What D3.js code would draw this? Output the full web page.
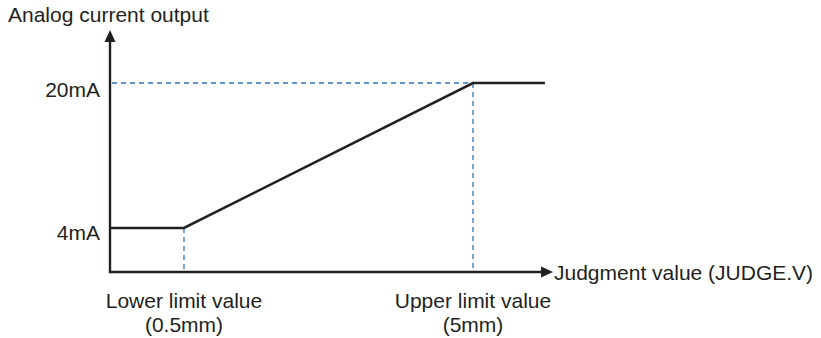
<!DOCTYPE html>
<html><head><meta charset="utf-8">
<script src="https://cdn.jsdelivr.net/npm/d3@7"></script>
<style>html,body{margin:0;padding:0;background:#fff;}svg{display:block;}</style>
</head><body>
<svg id="chart" width="821" height="338"></svg>
<script>
// Data
const limitValues = [0.5, 5];                 // judgment value (mm): lower, upper limit
const limitLabels = ["Lower limit value", "Upper limit value"];
const limitUnits = ["(0.5mm)", "(5mm)"];
const currentTicks = [4, 20];                 // mA
const currentLabels = ["4mA", "20mA"];
const outputX = [-0.652, 0.5, 5, 6.12];       // judgment value
const outputY = [4, 4, 20, 20];               // analog current (mA)
const xDomain = [-0.652, 6.246];
const yDomain = [-0.855, 25.85];

const svg = d3.select("#chart");
const x = d3.scaleLinear().domain(xDomain).range([110, 553]);
const y = d3.scaleLinear().domain(yDomain).range([272, 30]);
const font = "'Liberation Sans', Arial, Helvetica, sans-serif";
const textColor = "#231f20";
const dashColor = "#2f74bd";

// dashed guides
const g = svg.append("g");
g.append("line").attr("x1", x(xDomain[0]) + 2).attr("x2", x(limitValues[1]))
  .attr("y1", y(currentTicks[1])).attr("y2", y(currentTicks[1]))
  .attr("stroke", dashColor).attr("stroke-width", 1.3).attr("stroke-dasharray", "5,4");
limitValues.forEach((v, i) => {
  g.append("line").attr("x1", x(v)).attr("x2", x(v))
    .attr("y1", y(currentTicks[i])).attr("y2", y(yDomain[0]))
    .attr("stroke", dashColor).attr("stroke-width", 1.3).attr("stroke-dasharray", "5,4");
});

// output line
const line = d3.line().x(d => x(d[0])).y(d => y(d[1]));
svg.append("path").datum(outputX.map((v, i) => [v, outputY[i]]))
  .attr("d", line).attr("fill", "none").attr("stroke", textColor).attr("stroke-width", 2.6);

// axes
const x0 = x(xDomain[0]), y0 = y(yDomain[0]);
const xEnd = x(xDomain[1]), yEnd = y(yDomain[1]);
svg.append("line").attr("x1", x0).attr("x2", xEnd - 10).attr("y1", y0).attr("y2", y0)
  .attr("stroke", textColor).attr("stroke-width", 2.4);
svg.append("line").attr("x1", x0).attr("x2", x0).attr("y1", y0 + 1.2).attr("y2", yEnd + 10)
  .attr("stroke", textColor).attr("stroke-width", 2.4);
svg.append("path").attr("d", `M${xEnd},${y0} L${xEnd - 12},${y0 - 5.5} L${xEnd - 12},${y0 + 5.5} Z`).attr("fill", textColor);
svg.append("path").attr("d", `M${x0},${yEnd} L${x0 - 5.5},${yEnd + 12} L${x0 + 5.5},${yEnd + 12} Z`).attr("fill", textColor);

// texts
function txt(s, px, py, anchor) {
  return svg.append("text").attr("x", px).attr("y", py).attr("text-anchor", anchor)
    .attr("font-family", font).attr("font-size", 21).attr("fill", textColor).text(s);
}
txt("Analog current output", 8, 22, "start");
const tickDy = [12, 13.5];
currentTicks.forEach((v, i) => txt(currentLabels[i], x0 - 10, y(v) + tickDy[i], "end"));
limitValues.forEach((v, i) => {
  txt(limitLabels[i], x(v), 308, "middle");
  txt(limitUnits[i], x(v), 332, "middle");
});
txt("Judgment value (JUDGE.V)", xEnd + 1, y0 + 8, "start");
</script>
</body></html>
